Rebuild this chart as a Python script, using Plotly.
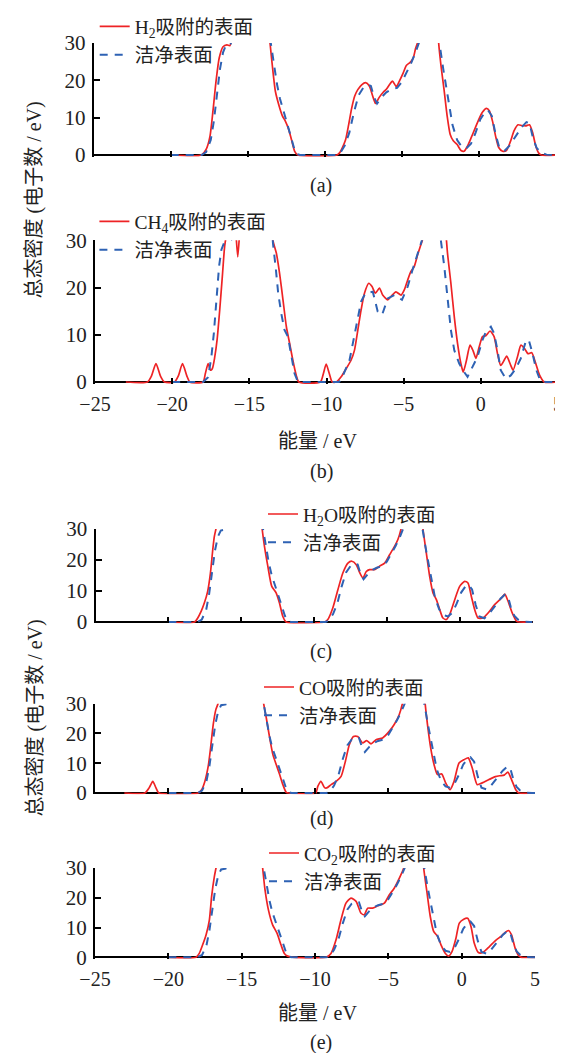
import plotly.graph_objects as go

# ---------------- data (energy eV, total DOS electrons/eV) ----------------
energy_ticks = [-25, -20, -15, -10, -5, 0, 5]
dos_ticks = [0, 10, 20, 30]

clean_surface = [(-20, 0), (-18.0, 0), (-17.7, 0.8), (-17.4, 4), (-17.2, 9), (-17.0, 16), (-16.8, 23),
                 (-16.6, 27.5), (-16.4, 29.5), (-16.1, 29.8), (-15.9, 36), (-15.5, 50), (-14.5, 60),
                 (-13.8, 45), (-13.5, 30), (-13.3, 24), (-13.1, 19), (-12.9, 15), (-12.6, 11), (-12.4, 8),
                 (-12.2, 5), (-12.0, 2), (-11.8, 0.3), (-11.6, 0), (-9.2, 0), (-9.0, 0.5), (-8.7, 2.5),
                 (-8.4, 6), (-8.1, 11.5), (-7.8, 16), (-7.5, 18), (-7.2, 18.8), (-7.0, 18.5), (-6.8, 15.5),
                 (-6.6, 13.8), (-6.3, 15.5), (-6.0, 16.8), (-5.7, 17.5), (-5.3, 18), (-5.0, 19.5),
                 (-4.7, 22), (-4.4, 24.5), (-4.1, 27.5), (-3.8, 31), (-3.5, 40), (-3.0, 50), (-2.7, 40),
                 (-2.55, 30), (-2.3, 23), (-2.0, 15), (-1.7, 8), (-1.4, 4), (-1.1, 2.2), (-0.8, 1.8),
                 (-0.5, 3), (-0.2, 6), (0.1, 9.5), (0.4, 11.5), (0.6, 12), (0.85, 10.5), (1.1, 5.5),
                 (1.35, 1.8), (1.7, 1.2), (2.0, 2.5), (2.4, 5), (2.8, 7.5), (3.1, 8.8), (3.3, 8.5),
                 (3.5, 5), (3.75, 2), (4.0, 0.8), (4.4, 0.1), (4.8, 0), (5.0, 0)]

clean_surface_b = [(-20, 0), (-18.0, 0), (-17.67, 1), (-17.46, 5.3), (-17.3, 10.3), (-17.13, 17.4),
                   (-16.96, 24.5), (-16.81, 28), (-16.6, 29.8), (-16.3, 31), (-16.0, 29.5), (-15.8, 36),
                   (-15.0, 50), (-14.0, 55), (-13.6, 35), (-13.47, 29.4), (-13.3, 24.5), (-13.13, 18.8),
                   (-12.93, 14.5), (-12.72, 11), (-12.5, 9.6), (-12.28, 6), (-12.07, 1.8), (-11.85, 0),
                   (-9.2, 0), (-9.05, 0.5), (-8.51, 4.6), (-8.08, 11.7), (-7.76, 17), (-7.48, 18.8),
                   (-7.0, 19.1), (-6.68, 14.9), (-6.4, 14.2), (-6.03, 17.7), (-5.6, 18.4), (-5.11, 17.4),
                   (-4.74, 20.2), (-4.42, 23.8), (-4.09, 27.3), (-3.77, 30.5), (-3.4, 42), (-3.0, 50),
                   (-2.7, 38), (-2.59, 30), (-2.37, 24.5), (-2.16, 17.4), (-1.94, 11), (-1.72, 6.7),
                   (-1.4, 3.9), (-1.08, 2.1), (-0.86, 1.1), (-0.54, 3.2), (-0.22, 5.3), (0.11, 8.9),
                   (0.32, 10.6), (0.65, 11.7), (0.86, 10.3), (1.08, 6.7), (1.29, 2.5), (1.62, 0.7),
                   (1.94, 1.4), (2.26, 2.8), (2.59, 5), (2.9, 8.5), (3.1, 9), (3.35, 6), (3.6, 2.5),
                   (3.85, 0.3), (4.2, 0), (5.0, 0)]

h2_adsorbed = [(-20, 0), (-18.0, 0), (-17.7, 1.5), (-17.45, 5), (-17.25, 12), (-17.05, 20), (-16.85, 26),
               (-16.6, 29), (-16.35, 29.5), (-16.15, 29.3), (-16.0, 34), (-15.5, 48), (-15.0, 60),
               (-14.5, 62), (-14.0, 55), (-13.7, 38), (-13.55, 30), (-13.35, 22), (-13.2, 17),
               (-12.95, 13), (-12.75, 10.5), (-12.55, 9), (-12.35, 7), (-12.15, 4), (-11.95, 1),
               (-11.75, 0), (-9.2, 0), (-9.05, 0.5), (-8.85, 2), (-8.65, 4), (-8.45, 8), (-8.25, 12.5),
               (-8.05, 15.8), (-7.85, 17.5), (-7.6, 18.8), (-7.35, 19.4), (-7.1, 18.5), (-6.9, 16),
               (-6.7, 13.8), (-6.45, 15.5), (-6.2, 16.8), (-6.0, 17.6), (-5.8, 18.8), (-5.6, 19.8),
               (-5.35, 18.3), (-5.15, 19.8), (-4.9, 22), (-4.7, 24), (-4.45, 24.8), (-4.25, 26),
               (-4.1, 28.5), (-3.9, 31), (-3.6, 40), (-3.1, 50), (-2.75, 40), (-2.6, 30), (-2.45, 24),
               (-2.25, 17.5), (-2.05, 10.5), (-1.85, 5.5), (-1.65, 3.8), (-1.4, 2.8), (-1.15, 1.2),
               (-0.95, 1.0), (-0.75, 2.2), (-0.5, 4.5), (-0.25, 7), (0.0, 9.5), (0.25, 11.5),
               (0.5, 12.5), (0.7, 11.8), (0.9, 9), (1.1, 5), (1.3, 2), (1.55, 1.0), (1.8, 1.2),
               (2.05, 3.5), (2.3, 6.5), (2.55, 8.1), (2.8, 7.9), (3.05, 7.8), (3.3, 8.1), (3.5, 6),
               (3.7, 2.5), (3.9, 0.5), (4.05, 0), (5.0, 0)]

ch4_adsorbed = [(-23, 0), (-21.6, 0), (-21.35, 1.2), (-21.05, 3.9), (-20.75, 1.2), (-20.5, 0), (-19.85, 0),
                (-19.6, 1.3), (-19.33, 3.9), (-19.05, 1.3), (-18.85, 0), (-18.0, 0), (-17.85, 1.8),
                (-17.67, 3.9), (-17.52, 2.5), (-17.4, 2.8), (-17.24, 5.3), (-17.09, 8.9), (-16.92, 15.2),
                (-16.75, 22.3), (-16.6, 28.7), (-16.45, 32), (-16.1, 40), (-15.9, 33), (-15.75, 26.5),
                (-15.6, 33), (-15.3, 45), (-14.5, 60), (-13.8, 45), (-13.47, 30), (-13.25, 27.3),
                (-13.04, 23), (-12.82, 17.4), (-12.6, 11.7), (-12.39, 8.2), (-12.18, 4.6), (-11.96, 1.4),
                (-11.79, 0), (-10.4, 0), (-10.2, 1.8), (-10.02, 3.8), (-9.82, 1.8), (-9.63, 0),
                (-9.37, 0), (-9.05, 1.1), (-8.73, 2.8), (-8.41, 4.6), (-8.19, 6.7), (-7.97, 11),
                (-7.76, 15.2), (-7.54, 18.8), (-7.26, 20.9), (-7.05, 20.2), (-6.83, 18.8), (-6.57, 19.9),
                (-6.36, 18.4), (-6.03, 17.4), (-5.82, 18.1), (-5.5, 19.1), (-5.17, 18.4), (-4.96, 19.5),
                (-4.74, 21.6), (-4.53, 23.4), (-4.31, 24.5), (-4.09, 27), (-3.88, 29.1), (-3.7, 31),
                (-3.2, 45), (-2.6, 45), (-2.3, 33), (-2.16, 27.3), (-1.94, 20.9), (-1.72, 13.8),
                (-1.51, 8.2), (-1.29, 3.9), (-1.14, 2.1), (-0.93, 4.6), (-0.7, 7.8), (-0.5, 6.6),
                (-0.32, 5), (-0.11, 7.4), (0.11, 9.6), (0.32, 9.8), (0.6, 10.8), (0.86, 9.6), (1.08, 6),
                (1.29, 3.5), (1.51, 4.6), (1.68, 5.5), (1.94, 3.5), (2.09, 2.5), (2.37, 5.3), (2.6, 7.8),
                (2.85, 7), (3.05, 6), (3.3, 6.2), (3.55, 4), (3.8, 1.5), (4.1, 0), (5.0, 0)]

h2o_adsorbed = [(-20, 0), (-18.2, 0), (-17.98, 1.3), (-17.75, 3.4), (-17.53, 6.1), (-17.3, 9.9),
                (-17.11, 15.8), (-16.95, 23.3), (-16.84, 27.6), (-16.72, 30.3), (-16.4, 40), (-15.5, 58),
                (-14.5, 62), (-13.9, 45), (-13.56, 30), (-13.4, 24.4), (-13.17, 18), (-12.9, 11.5),
                (-12.6, 9.4), (-12.37, 6.1), (-12.14, 1.8), (-11.91, 0), (-9.28, 0), (-9.05, 0.8),
                (-8.71, 4.5), (-8.36, 10.4), (-8.02, 15.8), (-7.67, 19), (-7.4, 19.6), (-7.1, 18.5),
                (-6.87, 16), (-6.64, 14.2), (-6.41, 16.3), (-6.19, 16.9), (-5.84, 16.9), (-5.5, 18),
                (-5.15, 19), (-4.81, 21.7), (-4.47, 24.4), (-4.24, 26.6), (-4.01, 30.3), (-3.6, 42),
                (-3.0, 50), (-2.7, 40), (-2.52, 30), (-2.29, 22.3), (-2.06, 14.7), (-1.83, 9.4),
                (-1.6, 7.2), (-1.37, 4), (-1.15, 1.3), (-0.92, 0.8), (-0.69, 2.4), (-0.34, 7.2),
                (0.0, 11.5), (0.34, 13.1), (0.57, 12.6), (0.8, 8.3), (1.03, 4), (1.26, 1.3), (1.6, 1.3),
                (1.95, 2.9), (2.4, 5.6), (2.86, 7.7), (3.1, 9), (3.3, 7), (3.6, 3), (3.9, 0.3),
                (4.1, 0), (5.0, 0)]

co_adsorbed = [(-23, 0), (-21.6, 0), (-21.3, 1.8), (-21.06, 3.9), (-20.85, 1.8), (-20.65, 0), (-17.96, 0),
               (-17.73, 1.1), (-17.51, 3.9), (-17.28, 9), (-17.12, 15.1), (-16.94, 23), (-16.76, 28),
               (-16.6, 30.2), (-16.2, 42), (-15.3, 60), (-14.3, 58), (-13.8, 42), (-13.5, 30),
               (-13.32, 25.2), (-13.09, 18.5), (-12.87, 12.9), (-12.64, 9.5), (-12.41, 6.2),
               (-12.19, 2.8), (-11.96, 0.2), (-11.8, 0), (-9.95, 0), (-9.81, 2.2), (-9.6, 3.9),
               (-9.35, 1.8), (-9.2, 1.7), (-8.9, 2.8), (-8.56, 3.9), (-8.22, 5.6), (-7.93, 10.6),
               (-7.66, 16.2), (-7.38, 19), (-7.09, 19), (-6.75, 16.8), (-6.48, 17.6), (-6.18, 16.5),
               (-5.84, 17.9), (-5.39, 18.5), (-4.94, 20.7), (-4.6, 23), (-4.26, 26.3), (-4.03, 30.2),
               (-3.6, 42), (-3.0, 50), (-2.65, 40), (-2.49, 30), (-2.33, 23), (-2.11, 15.1),
               (-1.88, 9.5), (-1.65, 6.2), (-1.36, 6.4), (-1.09, 3.4), (-0.79, 1.1), (-0.52, 3.9),
               (-0.18, 10.1), (0.16, 11.2), (0.45, 11.8), (0.72, 8.4), (1.06, 2.8), (1.4, 3.4),
               (1.86, 4.5), (2.3, 5.5), (2.6, 5.8), (2.9, 6), (3.15, 7), (3.4, 4.5), (3.7, 1),
               (3.9, 0), (5.0, 0)]

co2_adsorbed = [(-20, 0), (-18.11, 0), (-17.89, 1.3), (-17.66, 4.2), (-17.43, 7.5), (-17.2, 12.6),
                (-17.05, 20.4), (-16.86, 27.2), (-16.75, 30), (-16.4, 40), (-15.5, 58), (-14.5, 62),
                (-13.9, 45), (-13.57, 30), (-13.41, 22.7), (-13.18, 16), (-12.89, 10.9), (-12.59, 8.1),
                (-12.32, 4.2), (-12.09, 1.3), (-11.86, 0.4), (-11.4, 0), (-9.25, 0), (-8.91, 1.3),
                (-8.57, 5.8), (-8.23, 12.6), (-7.89, 18.2), (-7.55, 19.9), (-7.2, 18.8), (-6.86, 14.8),
                (-6.64, 14.3), (-6.41, 16.5), (-6.07, 16.5), (-5.73, 17.3), (-5.27, 18.2), (-4.93, 21),
                (-4.59, 23.3), (-4.25, 26.6), (-3.95, 30), (-3.5, 42), (-3.0, 50), (-2.75, 40),
                (-2.59, 30), (-2.36, 21.6), (-2.14, 13.7), (-1.91, 8.7), (-1.64, 7), (-1.41, 4.2),
                (-1.11, 1.3), (-0.89, 0.4), (-0.66, 1.9), (-0.39, 6.4), (-0.16, 11.5), (0.14, 12.8),
                (0.41, 13.1), (0.64, 10.3), (0.86, 4.7), (1.14, 1.6), (1.43, 1.6), (1.89, 3.6),
                (2.34, 5.8), (2.68, 7), (2.95, 8.3), (3.2, 9), (3.4, 7.5), (3.65, 3), (3.9, 0.5),
                (4.1, 0), (5.0, 0)]

adsorbed_names = ["H<sub>2</sub>吸附的表面", "CH<sub>4</sub>吸附的表面", "H<sub>2</sub>O吸附的表面",
                  "CO吸附的表面", "CO<sub>2</sub>吸附的表面"]
clean_name = "洁净表面"
panel_labels = ["(a)", "(b)", "(c)", "(d)", "(e)"]
x_title = "能量 / eV"
y_title = "总态密度 (电子数 / eV)"

# ---------------- layout geometry (pixels) ----------------
W, H = 563, 1053
FONT = "Liberation Serif, Noto Sans CJK SC, serif"
TXT = "#222222"
RED = "#ee2325"
BLUE = "#2e62b4"
YMIN = -0.45
LEG_FONT = 19.5

panels = [
    dict(red=h2_adsorbed, blue=clean_surface, x0=85.7, x1=547.7, top=35, zero=147,
         leg=(91.7, 18.3), lab=177, ticklabels=False),
    dict(red=ch4_adsorbed, blue=clean_surface_b, x0=87, x1=550, top=232.3, zero=374,
         leg=(91.4, 213.3), lab=463, ticklabels=True),
    dict(red=h2o_adsorbed, blue=clean_surface, x0=87.5, x1=524.5, top=521, zero=614,
         leg=(260, 506), lab=643, ticklabels=False),
    dict(red=co_adsorbed, blue=clean_surface, x0=87, x1=527, top=695.7, zero=785,
         leg=(256, 679), lab=810, ticklabels=False),
    dict(red=co2_adsorbed, blue=clean_surface, x0=87, x1=527, top=860, zero=949.3,
         leg=(261, 845), lab=1034, ticklabels=True),
]

fig = go.Figure()
annotations = []
layout_axes = {}
row_h = 1.3 * LEG_FONT + 3

for i, p in enumerate(panels):
    n = i + 1
    sx = "" if n == 1 else str(n)
    leg_id = "legend" if n == 1 else f"legend{n}"
    ppu = (p["zero"] - p["top"]) / 30.0
    bottom = p["zero"] - YMIN * ppu
    xdom = [p["x0"] / W, p["x1"] / W]
    ydom = [1 - bottom / H, 1 - p["top"] / H]

    fig.add_trace(go.Scatter(x=[e for e, d in p["red"]], y=[d for e, d in p["red"]],
                             mode="lines", name=adsorbed_names[i],
                             line=dict(color=RED, width=1.7, shape="spline", smoothing=0.6),
                             xaxis="x" + sx, yaxis="y" + sx, legend=leg_id))
    fig.add_trace(go.Scatter(x=[e for e, d in p["blue"]], y=[d for e, d in p["blue"]],
                             mode="lines", name=clean_name,
                             line=dict(color=BLUE, width=2, dash="8px,7px"),
                             xaxis="x" + sx, yaxis="y" + sx, legend=leg_id))

    layout_axes["xaxis" + sx] = dict(
        domain=xdom, range=[-25, 5], anchor="y" + sx, tickvals=energy_ticks,
        showticklabels=p["ticklabels"], ticks="inside", ticklen=6, tickwidth=1.5,
        tickcolor="black", showline=False, showgrid=False, zeroline=False,
        ticklabelstandoff=6,
        tickfont=dict(family=FONT, size=20, color=TXT))
    layout_axes["yaxis" + sx] = dict(
        domain=ydom, range=[YMIN, 30], anchor="x" + sx, tickvals=dos_ticks,
        ticks="inside", ticklen=6, tickwidth=1.5, tickcolor="black",
        showline=True, linecolor="black", linewidth=2, showgrid=False,
        zeroline=True, zerolinecolor="black", zerolinewidth=2,
        ticklabelstandoff=2,
        tickfont=dict(family=FONT, size=21, color=TXT))

    lx, ly = p["leg"]
    layout_axes[leg_id] = dict(
        x=(lx - 5) / W, y=1 - (ly - 5 - row_h / 2) / H, xanchor="left", yanchor="top",
        bgcolor="rgba(0,0,0,0)", borderwidth=0, tracegroupgap=0, itemwidth=30,
        font=dict(family=FONT, size=LEG_FONT, color=TXT), traceorder="normal")

    annotations.append(dict(text=panel_labels[i], x=313 / W, y=1 - p["lab"] / H,
                            xref="paper", yref="paper", xanchor="center", yanchor="middle",
                            showarrow=False, borderpad=0,
                            font=dict(family=FONT, size=20, color=TXT)))

for ty in (433, 1005):
    annotations.append(dict(text=x_title, x=309 / W, y=1 - ty / H, xref="paper", yref="paper",
                            xanchor="center", yanchor="middle", showarrow=False, borderpad=0,
                            font=dict(family=FONT, size=20, color=TXT)))
for ty in (192, 710):
    annotations.append(dict(text=y_title, x=26.5 / W, y=1 - ty / H, xref="paper", yref="paper",
                            xanchor="center", yanchor="middle", showarrow=False, textangle=-90,
                            borderpad=0, font=dict(family=FONT, size=20, color=TXT)))

fig.update_layout(width=W, height=H, autosize=False,
                  margin=dict(l=0, r=0, t=0, b=0, autoexpand=False),
                  paper_bgcolor="white", plot_bgcolor="white", showlegend=True,
                  annotations=annotations, **layout_axes)

fig.write_html("out.html")
